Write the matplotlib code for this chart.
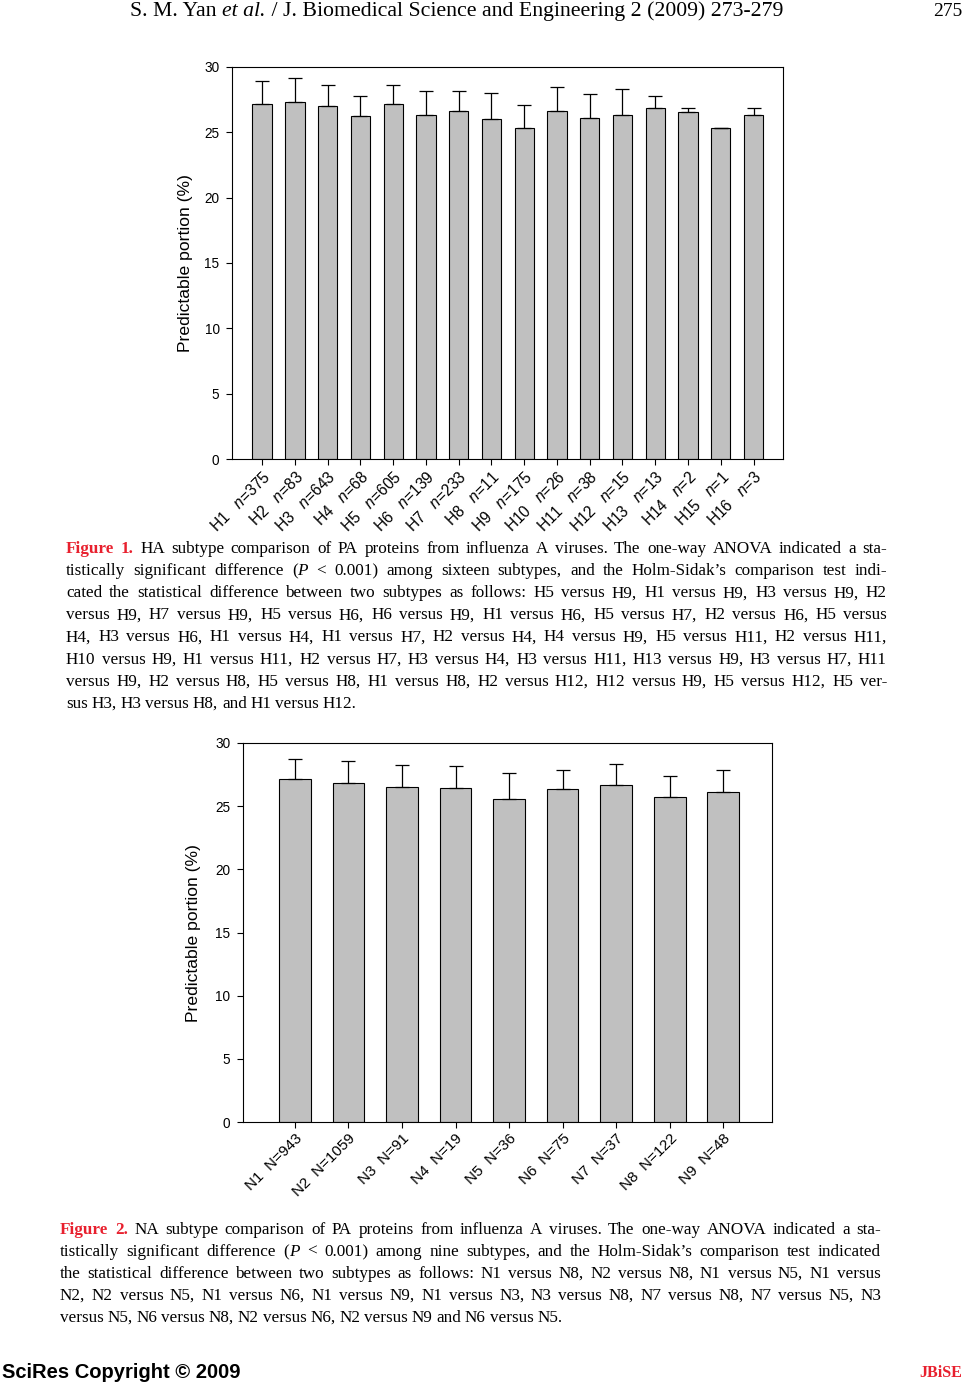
import matplotlib
matplotlib.use("Agg")
import matplotlib.pyplot as plt
import numpy as np

plt.rcParams['font.family'] = ['Liberation Sans', 'DejaVu Sans']
plt.rcParams['mathtext.fontset'] = 'custom'
plt.rcParams['mathtext.rm'] = 'Liberation Sans'
plt.rcParams['mathtext.it'] = 'Liberation Sans:italic'

# Figure 1 data: HA subtypes
ha_labels = ['H1', 'H2', 'H3', 'H4', 'H5', 'H6', 'H7', 'H8',
             'H9', 'H10', 'H11', 'H12', 'H13', 'H14', 'H15', 'H16']
ha_n = [375, 83, 643, 68, 605, 139, 233, 11, 175, 26, 38, 15, 13, 2, 1, 3]
ha_mean = [27.16, 27.32, 27.01, 26.24, 27.16, 26.31, 26.62, 26.00,
           25.31, 26.62, 26.08, 26.31, 26.86, 26.55, 25.31, 26.31]
ha_sd = [1.78, 1.83, 1.62, 1.54, 1.47, 1.86, 1.55, 2.02,
         1.80, 1.86, 1.86, 2.01, 0.90, 0.31, 0.0, 0.55]

# Figure 2 data: NA subtypes
na_labels = ['N1', 'N2', 'N3', 'N4', 'N5', 'N6', 'N7', 'N8', 'N9']
na_n = [943, 1059, 91, 19, 36, 75, 37, 122, 48]
na_mean = [27.14, 26.83, 26.51, 26.43, 25.56, 26.35, 26.67, 25.71, 26.14]
na_sd = [1.56, 1.74, 1.74, 1.74, 2.06, 1.51, 1.66, 1.67, 1.72]

W, H = 965, 1385
fig = plt.figure(figsize=(W / 100, H / 100), dpi=100)


def px_axes(left, top, right, bottom):
    return fig.add_axes([left / W, 1 - bottom / H, (right - left) / W, (bottom - top) / H])


def bar_panel(ax, means, sds, ticklabels, xlim, xfs, lpad):
    x = np.arange(len(means))
    ax.bar(x, means, width=0.59, color='#c0c0c0', edgecolor='black', linewidth=0.8, zorder=2)
    ax.errorbar(x, means, yerr=[np.zeros(len(sds)), sds], fmt='none', ecolor='black',
                elinewidth=0.9, capsize=5, capthick=0.9, zorder=3)
    ax.set_xlim(*xlim)
    ax.set_ylim(0, 30)
    ax.set_yticks(range(0, 31, 5))
    ax.set_xticks(x)
    ax.set_xticklabels(ticklabels, rotation=45, ha='right', va='top',
                       rotation_mode='anchor', fontsize=xfs)
    ax.tick_params(axis='y', labelsize=9.8, length=4, width=0.8, pad=5)
    ax.tick_params(axis='x', length=4, width=0.8, pad=3)
    for s in ax.spines.values():
        s.set_linewidth(0.8)
    ax.set_ylabel('Predictable portion (%)', fontsize=12.6, labelpad=lpad)


ax1 = px_axes(232, 67, 783, 459)
bar_panel(ax1, ha_mean, ha_sd,
          [f'{h}   $n$=%d' % n for h, n in zip(ha_labels, ha_n)], (-0.92, 15.9), 11.2, 8)

ax2 = px_axes(243, 743, 772, 1122)
bar_panel(ax2, na_mean, na_sd,
          [f'{h}  N={n}' for h, n in zip(na_labels, na_n)], (-0.97, 8.91), 11, 10)

# ---- captions, justified line by line ----
renderer = fig.canvas.get_renderer()
RED = '#e8202e'
cap_font = dict(family=['Liberation Serif', 'DejaVu Serif'], fontsize=12.3)


def place_line(words, x0, x1, y, justify=True, first=False):
    # each word is a group of text pieces; "(P" is "(" plus an italic "P"
    groups = []
    for i, word in enumerate(words):
        if word == '(P':
            a = fig.text(0, 1 - y / H, '(', va='center', ha='left', **cap_font)
            b = fig.text(0, 1 - y / H, 'P', va='center', ha='left', style='italic', **cap_font)
            groups.append([a, b])
        else:
            kw = dict(cap_font)
            if first and i < 2:
                kw.update(color=RED, fontweight='bold')
            groups.append([fig.text(0, 1 - y / H, word, va='center', ha='left', **kw)])
    gw = [[t.get_window_extent(renderer).width for t in g] for g in groups]
    widths = [sum(g) for g in gw]
    gap = 3.8
    if justify and len(groups) > 1:
        gap = max(1.5, (x1 - x0 - sum(widths)) / (len(groups) - 1))
    x = x0
    for g, ws in zip(groups, gw):
        for t, w in zip(g, ws):
            t.set_x(x / W)
            x += w
        x += gap


def caption(lines, x0, x1, y0, dy):
    for i, line in enumerate(lines):
        place_line(line.split(), x0, x1, y0 + i * dy,
                   justify=(i < len(lines) - 1), first=(i == 0))


cap1 = [
    'Figure 1. HA subtype comparison of PA proteins from influenza A viruses. The one-way ANOVA indicated a sta-',
    'tistically significant difference (P < 0.001) among sixteen subtypes, and the Holm-Sidak\u2019s comparison test indi-',
    'cated the statistical difference between two subtypes as follows: H5 versus H9, H1 versus H9, H3 versus H9, H2',
    'versus H9, H7 versus H9, H5 versus H6, H6 versus H9, H1 versus H6, H5 versus H7, H2 versus H6, H5 versus',
    'H4, H3 versus H6, H1 versus H4, H1 versus H7, H2 versus H4, H4 versus H9, H5 versus H11, H2 versus H11,',
    'H10 versus H9, H1 versus H11, H2 versus H7, H3 versus H4, H3 versus H11, H13 versus H9, H3 versus H7, H11',
    'versus H9, H2 versus H8, H5 versus H8, H1 versus H8, H2 versus H12, H12 versus H9, H5 versus H12, H5 ver-',
    'sus H3, H3 versus H8, and H1 versus H12.',
]
cap2 = [
    'Figure 2. NA subtype comparison of PA proteins from influenza A viruses. The one-way ANOVA indicated a sta-',
    'tistically significant difference (P < 0.001) among nine subtypes, and the Holm-Sidak\u2019s comparison test indicated',
    'the statistical difference between two subtypes as follows: N1 versus N8, N2 versus N8, N1 versus N5, N1 versus',
    'N2, N2 versus N5, N1 versus N6, N1 versus N9, N1 versus N3, N3 versus N8, N7 versus N8, N7 versus N5, N3',
    'versus N5, N6 versus N8, N2 versus N6, N2 versus N9 and N6 versus N5.',
]
caption(cap1, 66, 887, 549, 22.1)
caption(cap2, 60, 881, 1230, 22)

# ---- page header and footer ----
head_font = dict(family=['Liberation Serif'], fontsize=15.7, va='center', ha='left')
hx = 130
for piece, st in [('S. M. Yan ', 'normal'), ('et al.', 'italic'),
                  (' / J. Biomedical Science and Engineering 2 (2009) 273-279', 'normal')]:
    t = fig.text(hx / W, 1 - 11 / H, piece, style=st, **head_font)
    hx += t.get_window_extent(renderer).width
fig.text(962 / W, 1 - 11 / H, '275', ha='right', va='center', family=['Liberation Serif'], fontsize=14)
fig.text(2 / W, 1 - 1373 / H, 'SciRes Copyright \u00a9 2009', ha='left', va='center',
         fontweight='bold', fontsize=14.5)
fig.text(962 / W, 1 - 1373 / H, 'JBiSE', ha='right', va='center', color=RED,
         fontweight='bold', family=['Liberation Serif'], fontsize=11.5)

fig.savefig('out.png', dpi=100)
